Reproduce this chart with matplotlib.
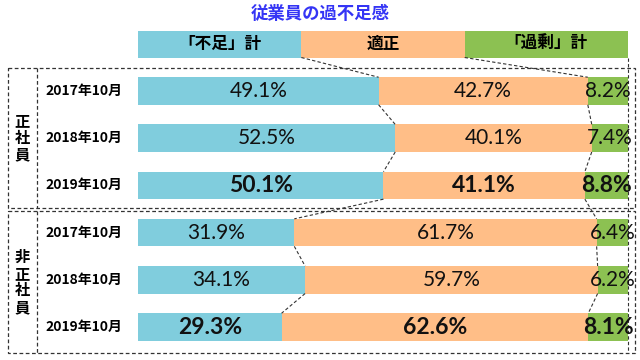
import matplotlib.pyplot as plt
from matplotlib.patches import Rectangle

plt.rcParams['font.family'] = ['Noto Sans CJK JP', 'DejaVu Sans']

# データ
kubun = ['正社員', '非正社員']
jiki = ['2017年10月', '2018年10月', '2019年10月']
retsu = ['「不足」計', '適正', '「過剰」計']
fusoku = [49.1, 52.5, 50.1, 31.9, 34.1, 29.3]
tekisei = [42.7, 40.1, 41.1, 61.7, 59.7, 62.6]
kajo = [8.2, 7.4, 8.8, 6.4, 6.2, 8.1]

iro = ['#80CDDD', '#FFBE87', '#8CC152']
senshoku = '#333333'

fig = plt.figure(figsize=(6.4, 3.6), dpi=100)
ax = fig.add_axes([0, 0, 1, 1])
# x軸は%（0%→138px、100%→628px）、y軸はピクセル
ax.set_xlim(-138 / 4.9, (640 - 138) / 4.9)
ax.set_ylim(360, 0)
ax.axis('off')


def px(x):
    return (x - 138) / 4.9


# タイトル
ax.text(px(320), 14, '従業員の過不足感', ha='center', va='center',
        fontsize=12.5, fontweight='bold', color='#3535F5')

# 見出し
for i, (t, c) in enumerate(zip(retsu, iro)):
    ax.barh(44, 100 / 3, left=100 / 3 * i, height=27, color=c)
    ax.text(100 / 3 * (i + 0.5), 44, t, ha='center', va='center',
            fontsize=12, fontweight='bold', color='black')

# 行の位置
ys = [91 + 47.2 * i for i in range(len(fusoku))]
h = 27.5

ax.barh(ys, fusoku, height=h, color=iro[0])
ax.barh(ys, tekisei, left=fusoku, height=h, color=iro[1])
left3 = [a + b for a, b in zip(fusoku, tekisei)]
ax.barh(ys, kajo, left=left3, height=h, color=iro[2])

for i, y in enumerate(ys):
    futo = i % 3 == 2
    kw = dict(ha='center', va='center', color='#111111',
              family=['Lato', 'DejaVu Sans'],
              fontsize=16.5 if futo else 15,
              fontweight='bold' if futo else 'normal')
    ax.text(fusoku[i] / 2, y, f'{fusoku[i]:.1f}%', **kw)
    ax.text(fusoku[i] + tekisei[i] / 2, y, f'{tekisei[i]:.1f}%', **kw)
    ax.text(left3[i] + kajo[i] / 2, y, f'{kajo[i]:.1f}%', **kw)
    ax.text(px(84), y, jiki[i % 3], ha='center', va='center',
            fontsize=10, fontweight='bold', color='black')

# 点線のつなぎ線
ls = dict(color=senshoku, lw=0.8, ls=(0, (3, 2)))
ax.plot([100 / 3, fusoku[0]], [57.5, ys[0] - h / 2], **ls)
ax.plot([200 / 3, left3[0]], [57.5, ys[0] - h / 2], **ls)
ax.plot([100, 100], [57.5, 352], **ls)
for i in range(len(ys) - 1):
    ax.plot([fusoku[i], fusoku[i + 1]], [ys[i] + h / 2, ys[i + 1] - h / 2], **ls)
    ax.plot([left3[i], left3[i + 1]], [ys[i] + h / 2, ys[i + 1] - h / 2], **ls)

# 点線の枠
for (y0, y1), name in zip([(68, 208), (211, 353)], kubun):
    ax.add_patch(Rectangle((px(8), y0), px(635) - px(8), y1 - y0,
                           fill=False, ec=senshoku, lw=0.9, ls=(0, (3, 2))))
    ax.plot([px(37), px(37)], [y0, y1], color=senshoku, lw=0.9, ls=(0, (3, 2)))
    ax.text(px(22), (y0 + y1) / 2, '\n'.join(name), ha='center', va='center',
            fontsize=11, fontweight='bold', color='black', linespacing=1.05)

fig.savefig('out.png', dpi=100)
